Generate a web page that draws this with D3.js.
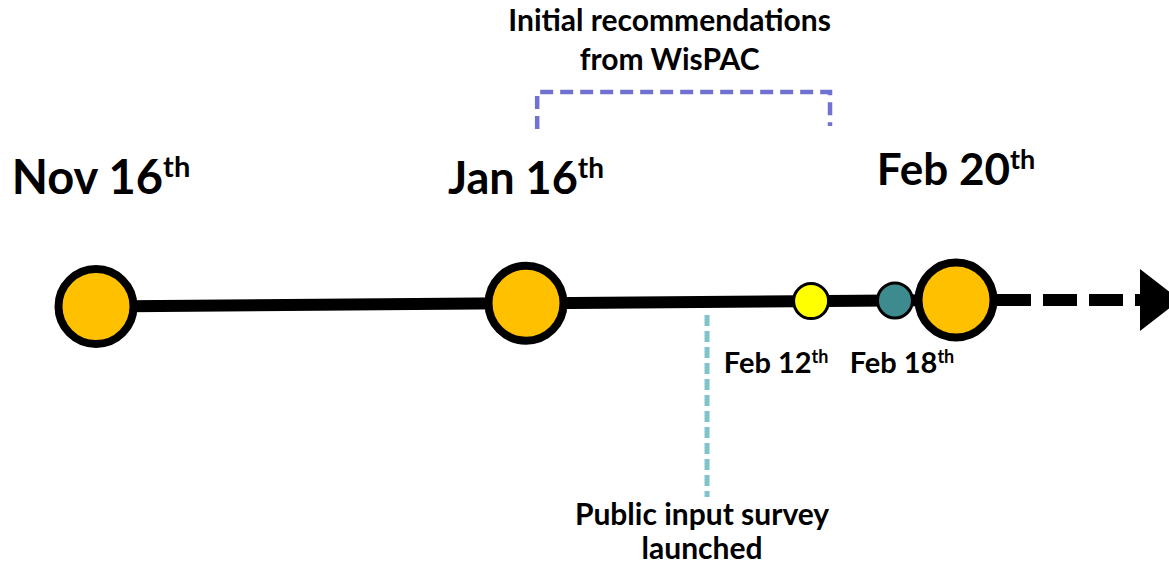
<!DOCTYPE html>
<html>
<head>
<meta charset="utf-8">
<script src="https://cdn.jsdelivr.net/npm/d3@7/dist/d3.min.js"></script>
<style>
  html, body { margin: 0; padding: 0; background: #fff; }
  svg { display: block; }
  text { font-family: Lato, 'Open Sans', sans-serif; font-weight: bold; fill: #000; }
</style>
</head>
<body>
<svg id="chart" width="1169" height="564"></svg>
<script>
// timeline milestones (position on the timeline, in "step" units)
const dateLabels = ['Nov 16', 'Jan 16', 'Feb 12', 'Feb 18', 'Feb 20'];
const dateSuffix = ['th', 'th', 'th', 'th', 'th'];
const datePos = [0, 1, 1.663, 1.858, 2];
const dateMajor = [true, true, false, false, true];
const dateColors = ['#FFC000', '#FFC000', '#FFFF00', '#3D8B8F', '#FFC000'];

// annotations
const bracketLines = ['Initial recommendations', 'from WisPAC'];
const bracketSpan = [1.026, 1.707];
const surveyLines = ['Public input survey', 'launched'];
const surveyPos = 1.421;

const width = 1169, height = 564;
const svg = d3.select('#chart');

const x = d3.scaleLinear().domain([0, 2]).range([96, 956]);
// the drawn line is slightly tilted
const y = d3.scaleLinear().domain([0, 2]).range([306.5, 300]);

// main solid line
svg.append('line')
    .attr('x1', x(0)).attr('y1', y(0))
    .attr('x2', x(2)).attr('y2', y(2))
    .attr('stroke', '#000')
    .attr('stroke-width', 12);

// dashed continuation + arrow head
const arrowStart = x(2) + 41;
const arrowHead = 1140;
svg.append('line')
    .attr('x1', arrowStart).attr('y1', y(2))
    .attr('x2', arrowHead).attr('y2', y(2))
    .attr('stroke', '#000')
    .attr('stroke-width', 12)
    .attr('stroke-dasharray', '34,12');
svg.append('path')
    .attr('d', d3.line()([[arrowHead, y(2) - 31], [arrowHead + 40, y(2)], [arrowHead, y(2) + 31]]) + 'Z')
    .attr('fill', '#000');

// survey marker (teal dashed)
svg.append('line')
    .attr('x1', x(surveyPos)).attr('y1', 315)
    .attr('x2', x(surveyPos)).attr('y2', 497)
    .attr('stroke', '#7DC4C8')
    .attr('stroke-width', 5)
    .attr('stroke-dasharray', '11,5');

svg.selectAll('text.survey')
    .data(surveyLines)
    .enter().append('text')
    .attr('class', 'survey')
    .attr('x', x(surveyPos) - 5)
    .attr('y', (d, i) => 525 + i * 34)
    .attr('text-anchor', 'middle')
    .style('font-size', '30px')
    .text(d => d);

// bracket for WisPAC recommendations
const bx0 = x(bracketSpan[0]), bx1 = x(bracketSpan[1]);
svg.append('path')
    .attr('d', d3.line()([[bx0, 129], [bx0, 92], [bx1, 92], [bx1, 126]]))
    .attr('fill', 'none')
    .attr('stroke', '#7171D1')
    .attr('stroke-width', 4.5)
    .attr('stroke-dasharray', '13,7');

svg.selectAll('text.bracket')
    .data(bracketLines)
    .enter().append('text')
    .attr('class', 'bracket')
    .attr('x', (bx0 + bx1) / 2 - 14)
    .attr('y', (d, i) => 31 + i * 39)
    .attr('text-anchor', 'middle')
    .style('font-size', '30px')
    .text(d => d);

// milestone circles
const nodes = dateLabels.map((d, i) => ({
    label: d, suffix: dateSuffix[i], pos: datePos[i], major: dateMajor[i], color: dateColors[i]
}));

svg.selectAll('circle')
    .data(nodes)
    .enter().append('circle')
    .attr('cx', d => x(d.pos))
    .attr('cy', d => y(d.pos))
    .attr('r', d => d.major ? 37.5 : 17.5)
    .attr('fill', d => d.color)
    .attr('stroke', '#000')
    .attr('stroke-width', d => d.major ? 8 : 3);

// date labels
const labelY = { 'Nov 16': 194, 'Jan 16': 194, 'Feb 20': 185, 'Feb 12': 373, 'Feb 18': 373 };
const labelDx = { 'Nov 16': 5, 'Jan 16': 0, 'Feb 20': 0, 'Feb 12': -35, 'Feb 18': 7 };
const labelSize = { 'Nov 16': 47, 'Jan 16': 45, 'Feb 20': 44, 'Feb 12': 29, 'Feb 18': 29 };

const labels = svg.selectAll('text.date')
    .data(nodes)
    .enter().append('text')
    .attr('class', 'date')
    .attr('x', d => x(d.pos) + labelDx[d.label])
    .attr('y', d => labelY[d.label])
    .attr('text-anchor', 'middle')
    .style('font-size', d => labelSize[d.label] + 'px');

labels.append('tspan').text(d => d.label);
labels.append('tspan')
    .attr('dy', d => -labelSize[d.label] * 0.36)
    .style('font-size', d => Math.round(labelSize[d.label] * 0.62) + 'px')
    .text(d => d.suffix);
</script>
</body>
</html>
